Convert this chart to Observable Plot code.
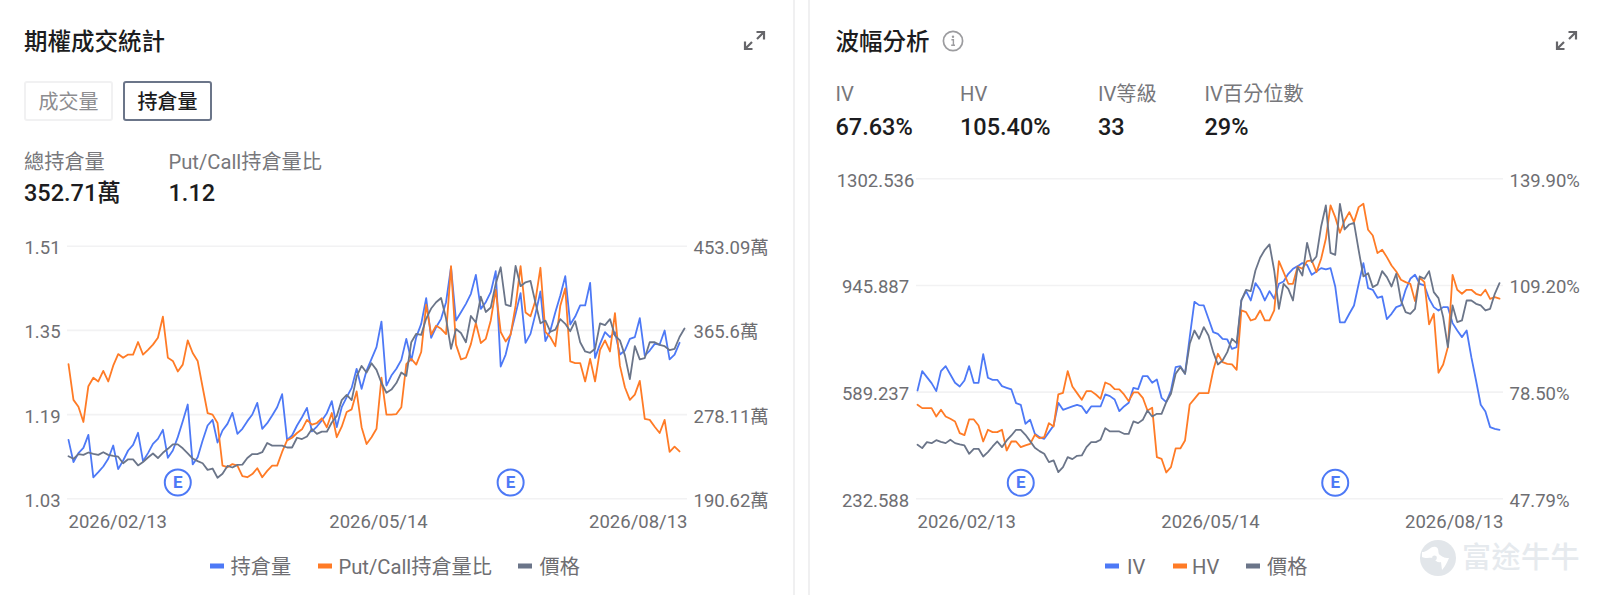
<!DOCTYPE html>
<html lang="zh-Hant">
<head>
<meta charset="utf-8">
<script src="https://cdn.jsdelivr.net/npm/d3@7"></script>
<script src="https://cdn.jsdelivr.net/npm/@observablehq/plot@0.6"></script>
<style>
html,body{margin:0;padding:0;background:#fff;width:1600px;height:595px;overflow:hidden;font-family:Roboto,"Noto Sans CJK TC",sans-serif}
#page{position:relative;width:1600px;height:595px}
.a{position:absolute;white-space:nowrap;line-height:1;transform:translateY(-50%)}
.title{font-size:23.5px;font-weight:500;color:#1c1c20}
.lab{font-size:20.2px;color:#77777b}
.val{font-size:23.5px;font-weight:500;color:#1c1c20}
.leg{font-size:20.2px;color:#6e6e72}
.sw{position:absolute;width:14px;height:5px;transform:translateY(-50%)}
.btn{position:absolute;box-sizing:border-box;border-radius:3px;font-size:20px;display:flex;align-items:center;justify-content:center;line-height:1;padding-top:2px}
.vline{position:absolute;top:0;width:2px;height:595px;background:#f0f0f1}
.plot{position:absolute}
</style>
</head>
<body>
<div id="page"></div>
<script>
// 持倉量 (萬)
const openInterest = [251.9,228.7,238.1,243.6,257.1,212.8,218.3,224.2,232.2,246.0,221.4,230.4,240.8,246.7,259.2,229.7,238.1,247.7,252.9,262.3,233.2,240.8,254.7,271.3,288.6,226.3,233.9,251.2,266.8,272.7,249.1,261.6,268.5,279.9,258.1,263.3,271.3,278.2,290.3,263.3,269.2,277.2,285.8,299.3,251.9,256.4,266.8,275.4,285.1,260.6,265.7,272.0,279.6,292.1,265.1,285.8,296.2,305.9,325.7,304.9,323.9,336.0,348.2,374.8,308.3,318.7,325.7,335.0,356.8,334.3,358.6,372.4,399.1,357.9,368.9,377.6,394.9,431.3,375.9,384.5,393.2,403.6,423.3,388.0,394.9,405.3,427.1,328.1,340.5,362.0,382.8,404.3,352.7,362.0,382.8,406.0,354.4,365.5,384.5,401.8,421.9,371.7,380.0,391.5,391.5,415.0,337.1,351.6,363.8,358.6,363.8,340.5,344.7,356.8,358.6,378.3,339.5,344.7,351.6,350.9,365.5,335.4,340.5,352.71];
// Put/Call 持倉量比
const putCallRatio = [1.286,1.218,1.205,1.176,1.244,1.260,1.253,1.273,1.253,1.283,1.305,1.298,1.304,1.304,1.328,1.304,1.313,1.323,1.336,1.376,1.298,1.292,1.272,1.285,1.331,1.307,1.292,1.242,1.193,1.190,1.174,1.093,1.090,1.096,1.093,1.073,1.071,1.077,1.088,1.071,1.083,1.093,1.093,1.119,1.141,1.146,1.155,1.162,1.180,1.171,1.174,1.183,1.166,1.193,1.147,1.167,1.195,1.200,1.234,1.166,1.134,1.147,1.163,1.260,1.190,1.190,1.191,1.204,1.286,1.296,1.285,1.309,1.399,1.342,1.359,1.353,1.343,1.472,1.323,1.295,1.298,1.324,1.364,1.326,1.334,1.369,1.427,1.347,1.329,1.342,1.397,1.472,1.384,1.377,1.407,1.469,1.347,1.337,1.320,1.397,1.430,1.291,1.288,1.288,1.253,1.296,1.253,1.313,1.331,1.310,1.383,1.283,1.242,1.218,1.228,1.254,1.182,1.180,1.167,1.155,1.180,1.119,1.129,1.12];
// 價格
const price = [413.1,402.0,422.1,418.7,428.7,423.2,418.7,429.9,418.7,414.3,410.9,383.1,399.8,399.8,374.1,388.6,407.6,424.3,405.3,427.6,444.3,463.3,463.3,446.6,425.4,403.1,392.0,383.1,355.2,360.8,321.8,338.5,371.9,365.2,376.4,377.5,405.3,422.1,422.1,429.9,468.9,457.7,457.7,457.7,449.9,449.9,491.2,485.6,496.7,527.9,507.9,516.8,516.8,555.8,583.7,650.5,672.8,650.5,750.8,795.4,767.6,806.6,778.7,723.0,681.7,695.1,723.0,767.6,753.1,895.7,931.4,926.9,996.0,1038.4,1065.1,1083.0,996.0,867.9,951.5,934.7,895.7,1007.2,979.3,1088.5,1023.9,1042.8,1143.1,1213.4,1055.1,1048.4,1218.9,1133.1,1149.8,1155.4,1062.9,976.0,987.1,940.3,949.2,993.8,973.7,942.5,984.9,895.7,856.7,851.1,867.9,976.0,968.2,993.8,923.6,903.5,840.0,739.7,879.0,823.3,828.9,895.7,895.7,884.6,879.0,862.3,867.9,918.0,953.7];
// IV (%)
const iv = [78.97,84.54,82.81,81.08,78.78,84.54,85.98,83.58,81.18,80.13,81.85,85.98,81.18,81.18,89.43,82.62,82.04,82.04,80.22,79.74,79.26,75.33,74.85,69.38,70.53,66.5,65.54,65.06,66.98,68.9,75.42,73.41,73.89,74.37,74.85,74.37,72.45,74.37,74.37,74.37,77.82,77.34,76.38,73.02,74.37,75.42,79.74,79.36,83.1,83.1,81.18,82.14,76.86,75.62,78.97,85.69,85.98,83.77,94.33,104.5,103.54,103.44,99.6,95.77,95.29,93.85,93.65,90.97,91.45,104.88,107.57,104.88,109.87,107.95,104.88,107.57,105.36,109.68,110.35,112.56,114.0,114.76,115.63,115.15,112.27,113.23,114.19,113.8,114.19,108.91,98.55,98.55,101.04,103.44,109.68,115.63,108.43,107.95,105.65,106.03,99.51,101.04,102.96,103.44,107.95,111.12,112.27,109.68,109.2,105.36,102.96,102.0,102.96,102.96,98.36,96.24,94.33,96.24,88.57,81.85,74.85,72.93,68.42,67.94,67.63];
// HV (%)
const hv = [74.85,73.89,73.89,73.89,71.49,73.41,71.49,70.82,70.05,66.69,66.12,70.63,70.63,68.9,64.29,67.65,66.98,66.98,67.65,61.7,64.29,64.29,62.66,63.14,63.62,66.21,65.25,65.54,69.57,68.61,77.82,78.3,84.54,80.13,78.21,76.29,78.78,78.78,77.82,76.57,81.28,80.7,79.36,79.26,77.82,75.9,78.4,78.4,76.86,73.22,73.98,59.78,59.3,55.37,56.91,62.28,62.28,64.58,74.94,76.57,78.21,78.21,78.21,84.73,89.53,87.13,86.65,86.46,84.92,102.0,101.52,99.12,99.6,102.0,99.12,99.12,102.0,116.2,113.04,109.68,109.68,114.67,114.0,116.2,116.39,113.04,116.87,122.63,132.23,128.87,124.36,127.91,130.31,127.43,131.75,132.71,125.22,123.59,118.51,119.47,117.35,114.96,113.23,110.83,110.16,109.68,104.69,111.41,110.16,97.97,101.04,84.06,86.46,91.45,112.27,107.95,106.8,107.95,107.95,106.8,106.32,107.95,105.36,105.84,105.4];

const ratioTicks = [1.03,1.19,1.35,1.51];
const oiTickLabels = ["190.62萬","278.11萬","365.6萬","453.09萬"];
const priceTicks = [232.588,589.237,945.887,1302.536];
const priceTickLabels = ["232.588","589.237","945.887","1302.536"];
const volTickLabels = ["47.79%","78.50%","109.20%","139.90%"];
const dateLabels = ["2026/02/13","2026/05/14","2026/08/13"];
const dateIndex = [0,62,124];
const earningsIndex = [22,89];

const BLUE="#4d79f6", ORANGE="#ff7b26", GRAY="#6b7589", TXT="#6e6e72", GRID="#f2f2f3";
const FONT='Roboto,"Noto Sans CJK TC",sans-serif';
const TICK=18.5;
const page=document.getElementById("page");

function html(s){const t=document.createElement("template");t.innerHTML=s.trim();page.appendChild(t.content.firstChild);}
function txt(cls,x,y,s){html(`<div class="a ${cls}" style="left:${x}px;top:${y}px">${s}</div>`);}

function chart({left,top,width,height,marginLeft,marginRight,marginTop,marginBottom,xRange,domain,ticks,leftLabels,leftPad,leftAnchor,rightLabels,series,markerY,dateDx}){
  const lab=(arr)=>(d)=>arr[ticks.indexOf(d)];
  const dateMarks=dateLabels.map((s,k)=>Plot.text([s],{x:[dateIndex[k]],text:d=>d,frameAnchor:"bottom",lineAnchor:"middle",dy:23.5,dx:dateDx[k],
    textAnchor:["start","middle","end"][k],fill:TXT,fontSize:TICK,fontFamily:FONT}));
  const svg=Plot.plot({
    width,height,marginLeft,marginRight,marginTop,marginBottom,
    style:{fontFamily:FONT,fontSize:TICK+"px",color:TXT,background:"transparent",overflow:"visible"},
    x:{domain:[0,124],range:xRange,axis:null},
    y:{domain,axis:null},
    marks:[
      Plot.ruleY(ticks,{stroke:GRID,strokeWidth:1.6}),
      Plot.axisY(ticks,{anchor:"left",tickSize:0,tickPadding:leftPad,textAnchor:leftAnchor,tickFormat:lab(leftLabels),label:null,fontSize:TICK,fill:TXT,fontFamily:FONT,dy:2}),
      Plot.axisY(ticks,{anchor:"right",tickSize:0,tickPadding:6,tickFormat:lab(rightLabels),label:null,fontSize:TICK,fill:TXT,fontFamily:FONT,dy:2}),
      ...dateMarks,
      ...series.map(s=>Plot.line(s.values,{x:(d,i)=>i,y:s.y,stroke:s.color,strokeWidth:1.8,strokeLinejoin:"round"})),
      Plot.dot(earningsIndex,{x:d=>d,y:()=>markerY,r:13,stroke:BLUE,strokeWidth:2,fill:"#fff"}),
      Plot.text(earningsIndex,{x:d=>d,y:()=>markerY,text:()=>"E",fill:BLUE,fontSize:17,fontWeight:700,fontFamily:FONT})
    ]
  });
  svg.setAttribute("class",svg.getAttribute("class")+" plot");
  svg.style.position="absolute";svg.style.left=left+"px";svg.style.top=top+"px";svg.style.maxWidth="none";
  page.appendChild(svg);
}

// left chart: hidden axes for 持倉量 and price are mapped onto the ratio scale
const oiToRatio=d3.scaleLinear([190.62,453.09],[1.03,1.51]);
const priceToRatio=d3.scaleLinear([232.588,1302.536],[1.03,1.51]);
chart({left:0,top:228,width:793,height:310,marginLeft:67,marginRight:106,marginTop:17.7,marginBottom:39.7,
  xRange:[68,684],domain:[1.03,1.51],ticks:ratioTicks,leftLabels:ratioTicks.map(d=>d.toFixed(2)),leftPad:25,leftAnchor:"middle",
  rightLabels:oiTickLabels,markerY:1.061,dateDx:[0,2,3],
  series:[{values:openInterest,y:d=>oiToRatio(d),color:BLUE},{values:putCallRatio,y:d=>d,color:ORANGE},{values:price,y:d=>priceToRatio(d),color:GRAY}]});

// right chart: IV / HV mapped onto the price scale
const volToPrice=d3.scaleLinear([47.79,139.90],[232.588,1302.536]);
chart({left:809,top:160,width:791,height:378,marginLeft:107,marginRight:97,marginTop:18.3,marginBottom:39.7,
  xRange:[108,690],domain:[232.588,1302.536],ticks:priceTicks,leftLabels:priceTickLabels,leftPad:41,leftAnchor:"middle",
  rightLabels:volTickLabels,markerY:286,dateDx:[0,2,4],
  series:[{values:iv,y:d=>volToPrice(d),color:BLUE},{values:hv,y:d=>volToPrice(d),color:ORANGE},{values:price,y:d=>d,color:GRAY}]});

// panel borders
html('<div class="vline" style="left:793px"></div>');
html('<div class="vline" style="left:808px"></div>');

// left header
txt("title",24,42.5,"期權成交統計");
html('<div class="btn" style="left:24px;top:81px;width:89px;height:40px;border:2px solid #f1f1f2;color:#8d8d90">成交量</div>');
html('<div class="btn" style="left:123px;top:81px;width:89px;height:40px;border:2px solid #6b7589;color:#1c1c20;font-weight:500">持倉量</div>');
txt("lab",24,161.5,"總持倉量");
txt("lab",168.5,161.5,"Put/Call持倉量比");
txt("val",24,193.5,"352.71萬");
txt("val",168.5,193.5,"1.12");

// right header
txt("title",835.5,42.5,"波幅分析");
html('<svg style="position:absolute;left:942px;top:30px" width="22" height="22" viewBox="0 0 22 22"><circle cx="11" cy="11" r="9.6" fill="none" stroke="#9c9c9f" stroke-width="1.7"/><circle cx="11" cy="6.8" r="1.2" fill="#9c9c9f"/><path d="M9.4 9.8h2v5.2M9.2 15.2h3.8" fill="none" stroke="#9c9c9f" stroke-width="1.4"/></svg>');
[["IV","67.63%",835.5],["HV","105.40%",960],["IV等級","33",1098],["IV百分位數","29%",1204.5]].forEach(([l,v,x])=>{txt("lab",x,94,l);txt("val",x,127.5,v);});

// expand icons
const expand=x=>`<svg style="position:absolute;left:${x}px;top:29px" width="23" height="23" viewBox="0 0 23 23"><path d="M13.5 3H21V10.5M20.5 3.5L14 10M9.5 20H2V12.5M2.5 19.5L9 13" fill="none" stroke="#66666a" stroke-width="2.2"/></svg>`;
html(expand(743));html(expand(1555));

// legends
function legend(items){items.forEach(([c,sx,tx,s])=>{
  html(`<div class="sw" style="left:${sx}px;top:566px;background:${c}"></div>`);
  txt("leg",tx,567,s);
});}
legend([[BLUE,210,230.5,"持倉量"],[ORANGE,318,338.5,"Put/Call持倉量比"],[GRAY,518,539.5,"價格"]]);
legend([[BLUE,1105,1127,"IV"],[ORANGE,1173,1192,"HV"],[GRAY,1246,1267,"價格"]]);

// watermark
html('<svg style="position:absolute;left:1419px;top:539px" width="38" height="38" viewBox="0 0 38 38"><circle cx="19" cy="19" r="18" fill="#e2e6ea"/><path d="M3 13C9 13 12 6 17 8c4 2 1 6 4 8 4 3 6 3 9 3 0 0-3 8-7 12l-1-8c-3 1-6-1-7-4-2-1-8 1-12-1z" fill="#fff"/><circle cx="15.5" cy="19" r="2.4" fill="#e2e6ea"/></svg>');
html('<div class="a" style="left:1462px;top:558px;font-size:29px;font-weight:500;color:#e6eaee;letter-spacing:.5px">富途牛牛</div>');
</script>
</body>
</html>
